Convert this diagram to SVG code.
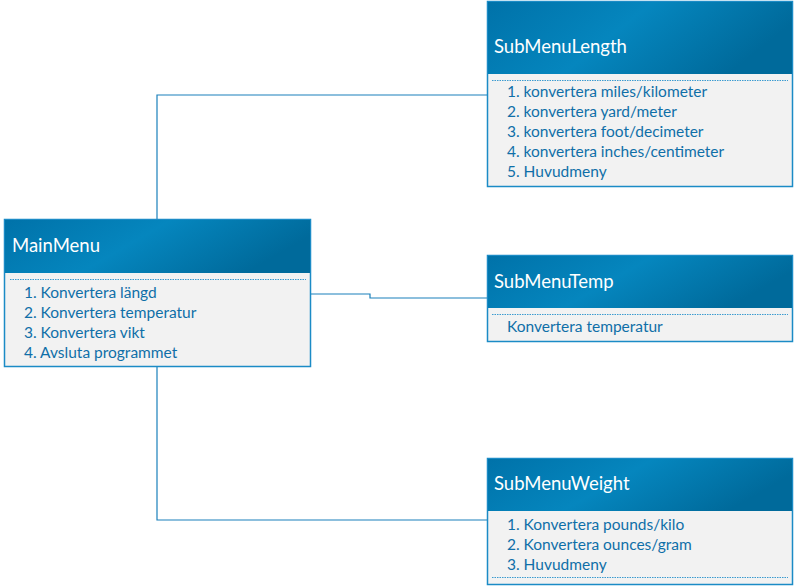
<svg xmlns="http://www.w3.org/2000/svg" width="795" height="586" viewBox="0 0 795 586">
<defs>
<linearGradient id="hg" x1="0" y1="0" x2="1" y2="0.3">
<stop offset="0" stop-color="#0072a9"/>
<stop offset="0.5" stop-color="#0586be"/>
<stop offset="1" stop-color="#006a9b"/>
</linearGradient>
<style>
.frame{fill:#f2f2f2;stroke:#1b8bc6;stroke-width:1.5}
.head{fill:url(#hg)}
.title{font-family:Lato,"Liberation Sans",sans-serif;font-size:18.5px;fill:#ffffff}
.item{font-family:Lato,"Liberation Sans",sans-serif;font-size:15.5px;fill:#0f6fa8}
.dot{stroke:#3a9bd0;stroke-width:1;stroke-dasharray:1.5 1}
.conn{fill:none;stroke:#1a80bb;stroke-width:1.2}
</style>
</defs>
<g id="connectors">
<polyline class="conn" points="157,219 157,95 487,95"/>
<polyline class="conn" points="311,294 370,294 370,298 487,298"/>
<polyline class="conn" points="157,367 157,520 487,520"/>
</g>
<g id="MainMenu">
<rect class="frame" x="4.5" y="219.5" width="306" height="147"/>
<rect class="head" x="5" y="220" width="305" height="53"/>
<line class="dot" x1="10" y1="279.5" x2="306" y2="279.5"/>
<text class="title" x="12" y="252">MainMenu</text>
<text class="item" x="24" y="298">1. Konvertera längd</text>
<text class="item" x="24" y="318">2. Konvertera temperatur</text>
<text class="item" x="24" y="338">3. Konvertera vikt</text>
<text class="item" x="24" y="358">4. Avsluta programmet</text>
</g>
<g id="SubMenuLength">
<rect class="frame" x="487.5" y="1.5" width="305" height="185"/>
<rect class="head" x="488" y="2" width="304" height="72"/>
<line class="dot" x1="492" y1="80.5" x2="788" y2="80.5"/>
<text class="title" x="494" y="53">SubMenuLength</text>
<text class="item" x="507" y="97">1. konvertera miles/kilometer</text>
<text class="item" x="507" y="117">2. konvertera yard/meter</text>
<text class="item" x="507" y="137">3. konvertera foot/decimeter</text>
<text class="item" x="507" y="157">4. konvertera inches/centimeter</text>
<text class="item" x="507" y="177">5. Huvudmeny</text>
</g>
<g id="SubMenuTemp">
<rect class="frame" x="487.5" y="255.5" width="305" height="86"/>
<rect class="head" x="488" y="256" width="304" height="52"/>
<line class="dot" x1="492" y1="314.5" x2="788" y2="314.5"/>
<text class="title" x="494" y="288">SubMenuTemp</text>
<text class="item" x="507" y="332">Konvertera temperatur</text>
</g>
<g id="SubMenuWeight">
<rect class="frame" x="487.5" y="458.5" width="305" height="126"/>
<rect class="head" x="488" y="459" width="304" height="52"/>
<line class="dot" x1="492" y1="577.5" x2="788" y2="577.5"/>
<text class="title" x="494" y="490">SubMenuWeight</text>
<text class="item" x="507" y="530">1. Konvertera pounds/kilo</text>
<text class="item" x="507" y="550">2. Konvertera ounces/gram</text>
<text class="item" x="507" y="570">3. Huvudmeny</text>
</g>
</svg>
